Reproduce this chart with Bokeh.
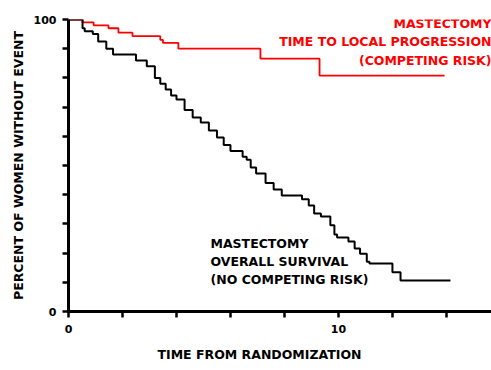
from bokeh.plotting import figure
from bokeh.models import Range1d, FixedTicker, Label, Title
from bokeh.embed import file_html
from bokeh.resources import INLINE

# Overall survival (black), Kaplan-Meier steps
os_time = [0, 0.52, 0.6, 0.9, 1.1, 1.4, 1.65, 2.5, 2.9, 3.2, 3.4, 3.6, 3.8, 4.0, 4.3, 4.6, 4.9,
           5.2, 5.5, 5.75, 6.0, 6.45, 6.6, 6.75, 6.95, 7.3, 7.6, 7.9, 8.65, 8.9, 9.1, 9.35,
           9.7, 9.85, 9.95, 10.37, 10.6, 10.8, 11.05, 11.15, 12.0, 12.3, 14.15]
os_val = [100, 97, 96, 95, 92.5, 90, 88, 86, 84, 80, 78, 76, 74, 72.6, 69, 66.4, 64.7,
          62, 59.6, 57, 55, 53, 52, 49.3, 47.3, 44, 41.8, 39.7, 38.4, 36.3, 33.6, 32.5,
          29.5, 26.4, 25.3, 24, 21.6, 19.8, 17, 16.4, 13.4, 10.6, 10.6]

# Time to local progression (red)
lp_time = [0, 0.52, 0.93, 1.48, 1.85, 2.37, 3.4, 3.5, 4.07, 7.11, 9.3, 13.93]
lp_val = [100, 99, 98, 97, 95.5, 94.3, 93, 92, 90, 86.6, 80.8, 80.8]

y_ticks = [0, 10, 20, 30, 40, 50, 60, 70, 80, 90, 100]
y_labels = {0: "0", 100: "100"}
x_ticks = [0, 2, 4, 6, 8, 10, 12, 14]
x_labels = {0: "0", 10: "10"}

red_text = ["MASTECTOMY", "TIME TO LOCAL PROGRESSION", "(COMPETING RISK)"]
black_text = ["MASTECTOMY", "OVERALL SURVIVAL", "(NO COMPETING RISK)"]
x_title = "TIME FROM RANDOMIZATION"
y_title = "PERCENT OF WOMEN WITHOUT EVENT"

FONT = "DejaVu Sans"

p = figure(width=491, height=370, output_backend="svg", toolbar_location=None,
           x_range=Range1d(0, 15.67), y_range=Range1d(0, 100),
           min_border_left=68, min_border_right=0, min_border_top=19, min_border_bottom=59)
p.outline_line_color = None
p.xgrid.visible = False
p.ygrid.visible = False
p.background_fill_color = "white"
p.border_fill_color = "white"

p.step(lp_time, lp_val, mode="after", line_color="#ff0000", line_width=1.8)
p.step(os_time, os_val, mode="after", line_color="black", line_width=2)

for ax in (p.xaxis[0], p.yaxis[0]):
    ax.axis_line_width = 3
    ax.axis_line_color = "black"
    ax.major_tick_line_width = 2.5
    ax.major_tick_line_color = "black"
    ax.major_tick_in = 0
    ax.major_tick_out = 6
    ax.minor_tick_line_color = None
    ax.major_label_text_font = FONT
    ax.major_label_text_font_style = "bold"
    ax.major_label_text_font_size = "11px"
    ax.major_label_text_color = "black"
    ax.axis_label_text_font = FONT
    ax.axis_label_text_font_style = "bold"
    ax.axis_label_text_font_size = "12.5px"
    ax.axis_label_text_color = "black"

p.yaxis[0].ticker = FixedTicker(ticks=y_ticks)
p.yaxis[0].major_label_overrides = {t: y_labels.get(t, "") for t in y_ticks}
p.yaxis[0].major_label_standoff = 6
p.yaxis[0].axis_label = y_title
p.yaxis[0].axis_label_standoff = 5

p.xaxis[0].ticker = FixedTicker(ticks=x_ticks)
p.xaxis[0].major_label_overrides = {t: x_labels.get(t, "") for t in x_ticks}
p.xaxis[0].major_label_standoff = 7

# x-axis title, placed off-centre as in the original
p.add_layout(Title(text=x_title, align="left", offset=89, standoff=18,
                   text_font=FONT, text_font_style="bold", text_font_size="12.5px",
                   text_color="black"), "below")

for txt, yv in zip(red_text, [98.6, 92.3, 86.0]):
    p.add_layout(Label(x=15.67, y=yv, text=txt, text_align="right", text_baseline="middle",
                       text_font=FONT, text_font_style="bold", text_font_size="12.5px",
                       text_color="#ff0000"))

for txt, yv in zip(black_text, [23.3, 17.1, 11.0]):
    p.add_layout(Label(x=5.26, y=yv, text=txt, text_align="left", text_baseline="middle",
                       text_font=FONT, text_font_style="bold", text_font_size="12.5px",
                       text_color="black"))

open("out.html", "w").write(file_html(p, INLINE))
